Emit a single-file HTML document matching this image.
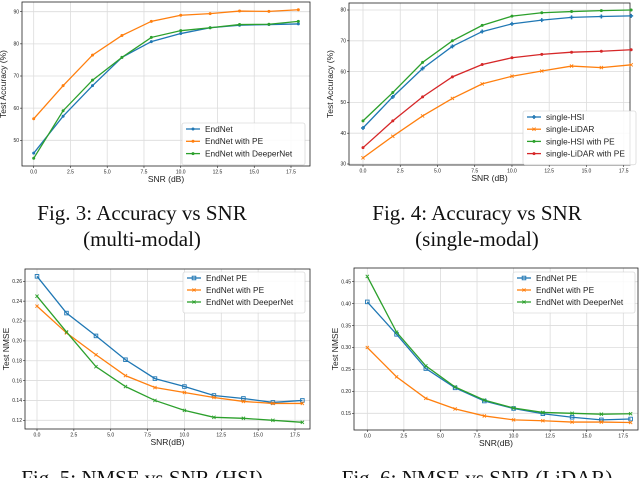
<!DOCTYPE html>
<html><head><meta charset="utf-8"><style>
body{margin:0;background:#fff;width:640px;height:478px;overflow:hidden}
svg{display:block}
.cap{font-family:"Liberation Serif",serif;font-size:21px;fill:#111}
.tk{font-family:"Liberation Sans",sans-serif;font-size:5px;fill:#222}
.al{font-family:"Liberation Sans",sans-serif;font-size:8.5px;fill:#222}
.lg{font-family:"Liberation Sans",sans-serif;font-size:8.3px;fill:#222}
</style></head><body>
<svg id="fig" width="640" height="478" viewBox="0 0 640 478" xmlns="http://www.w3.org/2000/svg">
<text class="cap" x="142" y="220" text-anchor="middle">Fig. 3: Accuracy vs SNR</text>
<text class="cap" x="142" y="246" text-anchor="middle">(multi-modal)</text>
<text class="cap" x="477" y="220" text-anchor="middle">Fig. 4: Accuracy vs SNR</text>
<text class="cap" x="477" y="246" text-anchor="middle">(single-modal)</text>
<text class="cap" x="142" y="485" text-anchor="middle">Fig. 5: NMSE vs SNR (HSI)</text>
<text class="cap" x="477" y="485" text-anchor="middle">Fig. 6: NMSE vs SNR (LiDAR)</text>
</svg>
<script>
const snr = [0,2,4,6,8,10,12,14,16,18];
const xTicks = [0,2.5,5,7.5,10,12.5,15,17.5];
// Fig 3
const f3EndNet = [46,57.5,67,75.8,80.7,83.2,85,85.8,86,86.2];
const f3PE = [56.7,67,76.5,82.6,87,88.9,89.4,90.2,90.1,90.6];
const f3Deeper = [44.4,59.2,68.7,75.8,82,84.1,85,86,86.1,87];
const f3YTicks = [50,60,70,80,90];
// Fig 4
const f4HSI = [41.7,51.8,61,68.2,73,75.5,76.7,77.6,77.9,78.1];
const f4LiDAR = [32,39,45.6,51.3,56,58.5,60.2,61.8,61.3,62.2];
const f4HSIPE = [44,53.2,63,70,75,78,79.1,79.5,79.8,80];
const f4LiDARPE = [35.3,44,51.8,58.3,62.3,64.5,65.6,66.3,66.6,67.1];
const f4YTicks = [30,40,50,60,70,80];
// Fig 5
const f5EndNetPE = [0.265,0.228,0.205,0.181,0.162,0.154,0.145,0.142,0.138,0.140];
const f5WithPE = [0.235,0.208,0.186,0.165,0.153,0.148,0.143,0.139,0.137,0.137];
const f5Deeper = [0.245,0.209,0.174,0.154,0.140,0.130,0.123,0.122,0.120,0.118];
const f5YTicks = [0.12,0.14,0.16,0.18,0.20,0.22,0.24,0.26];
// Fig 6
const f6EndNetPE = [0.404,0.330,0.252,0.208,0.178,0.161,0.149,0.141,0.135,0.137];
const f6WithPE = [0.300,0.233,0.184,0.160,0.144,0.135,0.133,0.130,0.130,0.129];
const f6Deeper = [0.462,0.335,0.258,0.210,0.180,0.162,0.152,0.150,0.148,0.149];
const f6YTicks = [0.15,0.20,0.25,0.30,0.35,0.40,0.45];

const NS="http://www.w3.org/2000/svg";
const svg=document.getElementById('fig');
function mk(tag,attrs,parent){const e=document.createElementNS(NS,tag);for(const k in attrs)e.setAttribute(k,attrs[k]);(parent||svg).appendChild(e);return e;}

function marker(g,shape,x,y,c){
  let m;
  if(shape==='sq') m=mk('rect',{x:x-1.8,y:y-1.8,width:3.6,height:3.6,fill:'none',stroke:c,'stroke-width':0.9},g);
  else if(shape==='x') m=mk('path',{d:`M${x-1.6},${y-1.6}L${x+1.6},${y+1.6}M${x-1.6},${y+1.6}L${x+1.6},${y-1.6}`,stroke:c,'stroke-width':0.9},g);
  else if(shape==='P') m=mk('path',{d:`M${x-2},${y}L${x+2},${y}M${x},${y-2}L${x},${y+2}`,stroke:c,'stroke-width':1.5},g);
  else m=mk('circle',{cx:x,cy:y,r:1.5,fill:c},g);
  
  
}

function plot(p){
  const g=mk('g',{});
  
  
  const X=v=>p.x0+(v-0)*(p.x1-p.x0)/17.5;
  const Y=v=>p.ya+(v-p.va)*(p.yb-p.ya)/(p.vb-p.va);
  const grid=mk('g',{},g);
  
  
  xTicks.forEach(t=>{
    mk('line',{x1:X(t),x2:X(t),y1:p.T,y2:p.B,stroke:'#dcdcdc','stroke-width':0.8},grid);
    mk('line',{x1:X(t),x2:X(t),y1:p.B,y2:p.B+2,stroke:'#222','stroke-width':0.6},g);
    const tx=mk('text',{class:'tk',x:X(t),y:p.B+7.5,'text-anchor':'middle'},g);
    tx.textContent=t.toFixed(1);
    
    
  });
  p.yTicks.forEach(t=>{
    mk('line',{x1:p.L,x2:p.R,y1:Y(t),y2:Y(t),stroke:'#dcdcdc','stroke-width':0.8},grid);
    mk('line',{x1:p.L-2,x2:p.L,y1:Y(t),y2:Y(t),stroke:'#222','stroke-width':0.6},g);
    const tx=mk('text',{class:'tk',x:p.L-3,y:Y(t)+1.7,'text-anchor':'end'},g);
    tx.textContent=p.fmt(t);
    
    
  });
  const fr=mk('rect',{x:p.L,y:p.T,width:p.R-p.L,height:p.B-p.T,fill:'none',stroke:'#222','stroke-width':0.8},g);
  
  
  p.series.forEach(s=>{
    const sg=mk('g',{},g);
    
    
    const d=s.data.map((v,i)=>(i?'L':'M')+X(snr[i]).toFixed(2)+','+Y(v).toFixed(2)).join('');
    const ln=mk('path',{d:d,fill:'none',stroke:s.c,'stroke-width':1.3},sg);
    
    
    s.data.forEach((v,i)=>marker(sg,s.m,X(snr[i]),Y(v),s.c));
  });
  const xl=mk('text',{class:'al',x:(p.L+p.R)/2,y:p.B+16,'text-anchor':'middle'},g);
  xl.textContent=p.xlabel;
  
  
  const yx=p.L-16,yy=(p.T+p.B)/2;
  const yl=mk('text',{class:'al',x:yx,y:yy,'text-anchor':'middle',transform:`rotate(-90 ${yx} ${yy})`},g);
  yl.textContent=p.ylabel;
  
  
  const lg=mk('g',{},g);
  
  
  const lh=p.lgStep*p.series.length+5;
  mk('rect',{x:p.lgX,y:p.lgY,width:p.lgW,height:lh,rx:2,fill:'#fff','fill-opacity':0.85,stroke:'#ccc','stroke-width':0.6},lg);
  p.series.forEach((s,i)=>{
    const yy2=p.lgY+6+i*p.lgStep;
    const e=mk('g',{},lg);
    
    
    mk('line',{x1:p.lgX+4,x2:p.lgX+18,y1:yy2,y2:yy2,stroke:s.c,'stroke-width':1.3},e);
    marker(e,s.m,p.lgX+11,yy2,s.c);
    const t=mk('text',{class:'lg',x:p.lgX+23,y:yy2+2.9},e);
    t.textContent=s.label;
  });
}
const B='#1f77b4',O='#ff7f0e',Gn='#2ca02c',Rd='#d62728';
plot({name:'chart-fig3',L:22,R:310,T:2,B:166,x0:33.7,x1:291,va:90,ya:11.7,vb:50,yb:140.3,yTicks:f3YTicks,fmt:t=>String(t),
  xlabel:'SNR (dB)',ylabel:'Test Accuracy (%)',lgX:182,lgY:123,lgW:123,lgStep:12.3,
  series:[{key:'endnet',label:'EndNet',data:f3EndNet,c:B,m:'o'},{key:'endnet-pe',label:'EndNet with PE',data:f3PE,c:O,m:'o'},{key:'endnet-deeper',label:'EndNet with DeeperNet',data:f3Deeper,c:Gn,m:'o'}]});
plot({name:'chart-fig4',L:349,R:630,T:3,B:165,x0:363,x1:623.7,va:80,ya:10,vb:30,yb:164,yTicks:f4YTicks,fmt:t=>String(t),
  xlabel:'SNR (dB)',ylabel:'Test Accuracy (%)',lgX:523,lgY:111,lgW:113,lgStep:12.2,
  series:[{key:'single-hsi',label:'single-HSI',data:f4HSI,c:B,m:'P'},{key:'single-lidar',label:'single-LiDAR',data:f4LiDAR,c:O,m:'x'},{key:'single-hsi-pe',label:'single-HSI with PE',data:f4HSIPE,c:Gn,m:'o'},{key:'single-lidar-pe',label:'single-LiDAR with PE',data:f4LiDARPE,c:Rd,m:'o'}]});
plot({name:'chart-fig5',L:25,R:310,T:269,B:429,x0:37,x1:295,va:0.26,ya:281.3,vb:0.12,yb:420.3,yTicks:f5YTicks,fmt:t=>t.toFixed(2),
  xlabel:'SNR(dB)',ylabel:'Test NMSE',lgX:183,lgY:272,lgW:122,lgStep:12,
  series:[{key:'endnet-pe',label:'EndNet PE',data:f5EndNetPE,c:B,m:'sq'},{key:'endnet-with-pe',label:'EndNet with PE',data:f5WithPE,c:O,m:'x'},{key:'endnet-deeper',label:'EndNet with DeeperNet',data:f5Deeper,c:Gn,m:'x'}]});
plot({name:'chart-fig6',L:354,R:638,T:268,B:430,x0:367.3,x1:623.3,va:0.45,ya:281.7,vb:0.15,yb:413.3,yTicks:f6YTicks,fmt:t=>t.toFixed(2),
  xlabel:'SNR(dB)',ylabel:'Test NMSE',lgX:513,lgY:272,lgW:122,lgStep:12,
  series:[{key:'endnet-pe',label:'EndNet PE',data:f6EndNetPE,c:B,m:'sq'},{key:'endnet-with-pe',label:'EndNet with PE',data:f6WithPE,c:O,m:'x'},{key:'endnet-deeper',label:'EndNet with DeeperNet',data:f6Deeper,c:Gn,m:'x'}]});
</script>
</body></html>
